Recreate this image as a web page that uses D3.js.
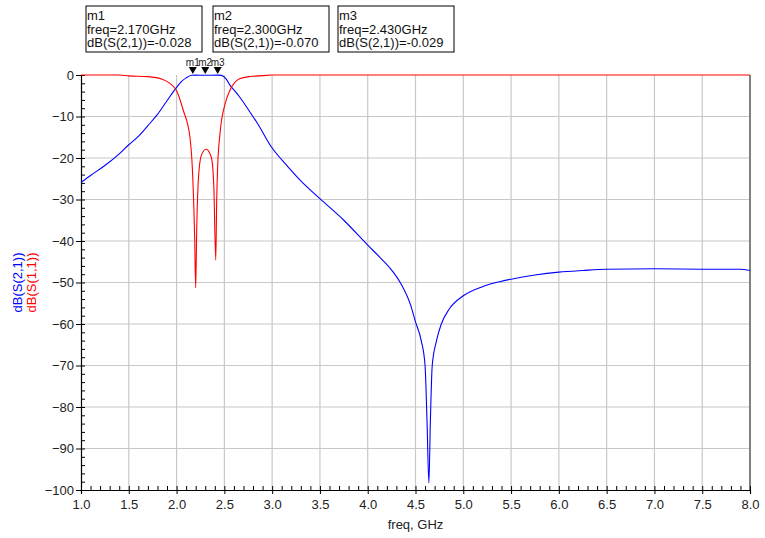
<!DOCTYPE html>
<html>
<head>
<meta charset="utf-8">
<script src="https://cdn.jsdelivr.net/npm/d3@7"></script>
<style>
  body { margin: 0; background: #fff; }
  text { font-family: Arial, "Liberation Sans", sans-serif; }
</style>
</head>
<body>
<script>
// S21 (blue)
var freqS21 = [1.0, 1.1, 1.25, 1.4, 1.5, 1.6, 1.7, 1.8, 1.9, 2.0, 2.05, 2.1, 2.16, 2.2, 2.3, 2.43, 2.47, 2.52, 2.56, 2.6, 2.66, 2.75, 2.85, 3.0, 3.15, 3.3, 3.5, 3.75, 4.0, 4.13, 4.25, 4.34, 4.45, 4.5, 4.56, 4.6, 4.62, 4.64, 4.655, 4.675, 4.72, 4.77, 4.85, 5.0, 5.2, 5.38, 5.5, 5.75, 6.0, 6.25, 6.5, 7.0, 7.5, 7.9, 8.0];
var dbS21 = [-25.9, -24.2, -21.8, -19, -16.8, -14.8, -12.2, -9.5, -6.2, -3.0, -1.6, -0.7, -0.05, -0.02, -0.07, -0.03, -0.1, -1.0, -2.5, -3.6, -5.3, -8.3, -11.8, -17.6, -21.7, -25.5, -29.8, -35, -41, -44, -47, -50, -55.5, -59.5, -64, -70, -83, -98.3, -84, -70, -64, -60, -56.5, -53.2, -51, -49.8, -49.2, -48.2, -47.5, -47.1, -46.8, -46.7, -46.8, -46.8, -47.1];

// S11 (red)
var freqS11 = [1.0, 1.4, 1.5, 1.7, 1.85, 1.93, 2.0, 2.07, 2.14, 2.17, 2.19, 2.2, 2.21, 2.23, 2.26, 2.31, 2.35, 2.37, 2.39, 2.41, 2.42, 2.43, 2.455, 2.51, 2.56, 2.66, 2.77, 2.9, 3.0, 8.0];
var dbS11 = [0, 0, -0.2, -0.4, -1.0, -2.0, -3.8, -8.5, -15, -25, -40, -51.3, -38, -24.5, -19.3, -17.9, -19, -20.5, -27, -44.6, -30, -22, -14, -6.8, -3.6, -0.9, -0.35, -0.15, 0, 0];

var markerNames = ["m1", "m2", "m3"];
var markerFreqs = [2.17, 2.30, 2.43];
var markerValues = ["-0.028", "-0.070", "-0.029"];

var xTicks = [1.0, 1.5, 2.0, 2.5, 3.0, 3.5, 4.0, 4.5, 5.0, 5.5, 6.0, 6.5, 7.0, 7.5, 8.0];
var yTicks = [0, -10, -20, -30, -40, -50, -60, -70, -80, -90, -100];

var width = 765, height = 538;
var plot = {left: 81, right: 750, top: 75, bottom: 490};

var svg = d3.select("body").append("svg")
            .attr("width", width)
            .attr("height", height);

var xScale = d3.scaleLinear().domain([1, 8]).range([plot.left, plot.right]);
var yScale = d3.scaleLinear().domain([-100, 0]).range([plot.bottom, plot.top]);

// grid
svg.append("g").selectAll("line")
   .data(xTicks.slice(1, -1))
   .enter().append("line")
   .attr("x1", function(d){ return xScale(d); })
   .attr("x2", function(d){ return xScale(d); })
   .attr("y1", plot.top).attr("y2", plot.bottom)
   .attr("stroke", "#c8c8c8").attr("stroke-width", 1.2);

svg.append("g").selectAll("line")
   .data(yTicks.slice(1, -1))
   .enter().append("line")
   .attr("y1", function(d){ return yScale(d); })
   .attr("y2", function(d){ return yScale(d); })
   .attr("x1", plot.left).attr("x2", plot.right)
   .attr("stroke", "#c8c8c8").attr("stroke-width", 1.2);

// right border
svg.append("line")
   .attr("x1", plot.right).attr("x2", plot.right)
   .attr("y1", plot.top).attr("y2", plot.bottom)
   .attr("stroke", "#808080").attr("stroke-width", 2);

// axes: major ticks outward, minor ticks inward
var xAxis = d3.axisBottom(xScale)
              .tickValues(xTicks)
              .tickSize(4)
              .tickFormat(d3.format(".1f"));
var xMinor = d3.axisTop(xScale)
               .tickValues(d3.range(10, 81).map(function(d){ return d / 10; }))
               .tickSize(4).tickFormat("");

var gx = svg.append("g")
   .attr("transform", "translate(0," + plot.bottom + ")")
   .call(xAxis);
svg.append("g")
   .attr("transform", "translate(0," + plot.bottom + ")")
   .call(xMinor)
   .select(".domain").remove();

var yAxis = d3.axisLeft(yScale)
              .tickValues(yTicks)
              .tickSize(5)
              .tickFormat(d3.format("d"));
var yMinor = d3.axisRight(yScale)
               .tickValues(d3.range(-100, 1, 2))
               .tickSize(4).tickFormat("");

var gy = svg.append("g")
   .attr("transform", "translate(" + plot.left + ",0)")
   .call(yAxis);
svg.append("g")
   .attr("transform", "translate(" + plot.left + ",0)")
   .call(yMinor)
   .select(".domain").remove();

svg.selectAll(".domain").attr("stroke", "#000").attr("stroke-width", 1.2);
svg.selectAll(".tick line").attr("stroke", "#000");
svg.selectAll(".tick text").attr("font-size", 13).attr("fill", "#222")
   .attr("font-family", "Arial, 'Liberation Sans', sans-serif");
gx.selectAll(".tick text").attr("dy", "0.95em");
gy.selectAll(".tick text").attr("x", -7);

// curves
var line = d3.line()
             .x(function(d){ return xScale(d[0]); })
             .y(function(d){ return yScale(d[1]); })
             .curve(d3.curveMonotoneX);

var s21 = d3.zip(freqS21, dbS21);
var s11 = d3.zip(freqS11, dbS11);

svg.append("path")
   .attr("d", line(s21))
   .attr("fill", "none").attr("stroke", "#0000ff").attr("stroke-width", 1.1);

svg.append("path")
   .attr("d", line(s11))
   .attr("fill", "none").attr("stroke", "#ff0000").attr("stroke-width", 1.1);

// markers
var markers = svg.append("g");
markerFreqs.forEach(function(f, i)
{
  var mx = xScale(f);
  markers.append("path")
         .attr("d", "M" + (mx - 4) + "," + (plot.top - 8) + "L" + (mx + 4) + "," + (plot.top - 8) + "L" + mx + "," + (plot.top - 1) + "Z")
         .attr("fill", "#000");
  markers.append("text")
         .attr("x", mx).attr("y", plot.top - 9)
         .attr("text-anchor", "middle")
         .attr("font-size", 10).attr("fill", "#222")
         .text(markerNames[i]);
});

// marker readout boxes
var boxX = [86, 213, 338];
markerNames.forEach(function(name, i)
{
  var g = svg.append("g").attr("transform", "translate(" + boxX[i] + ",6)");
  g.append("rect")
   .attr("width", 116).attr("height", 46)
   .attr("fill", "#fff").attr("stroke", "#000").attr("stroke-width", 1);
  var lines = [name, "freq=" + markerFreqs[i].toFixed(3) + "GHz", "dB(S(2,1))=" + markerValues[i]];
  lines.forEach(function(t, j)
  {
    g.append("text")
     .attr("x", 1).attr("y", 14 + j * 13.5)
     .attr("font-size", 13).attr("fill", "#111")
     .text(t);
  });
});

// axis titles
svg.append("text")
   .attr("x", (plot.left + plot.right) / 2).attr("y", 529)
   .attr("text-anchor", "middle")
   .attr("font-size", 13).attr("fill", "#222")
   .text("freq, GHz");

var yMid = (plot.top + plot.bottom) / 2;
svg.append("text")
   .attr("transform", "translate(22," + yMid + ") rotate(-90)")
   .attr("text-anchor", "middle")
   .attr("font-size", 13).attr("fill", "#0000ff")
   .text("dB(S(2,1))");
svg.append("text")
   .attr("transform", "translate(36," + yMid + ") rotate(-90)")
   .attr("text-anchor", "middle")
   .attr("font-size", 13).attr("fill", "#ff0000")
   .text("dB(S(1,1))");
</script>
</body>
</html>
